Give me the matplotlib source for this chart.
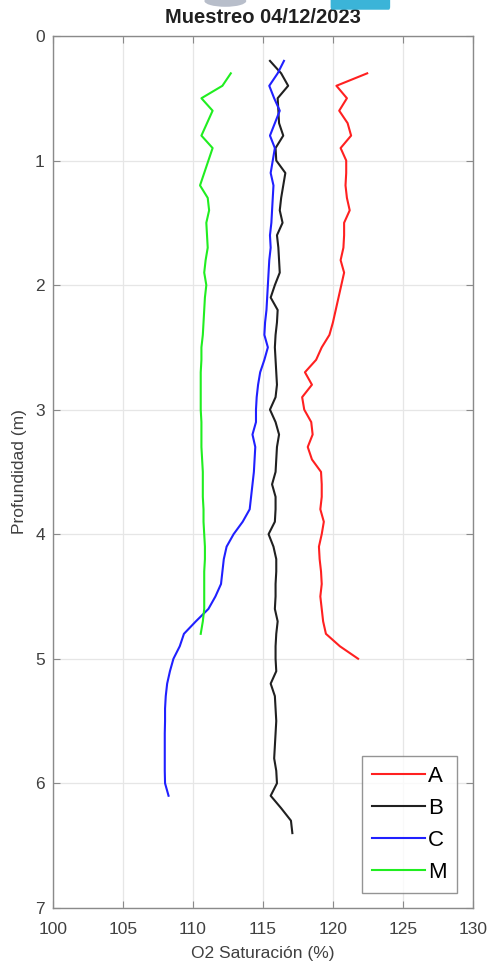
import matplotlib.pyplot as plt
import matplotlib.patches as mpatches

plt.rcParams['font.family'] = ['Liberation Sans', 'DejaVu Sans']

# O2 saturation profiles (%), one value per 0.1 m of depth
depth_a = [round(0.3 + 0.1 * i, 1) for i in range(48)]
sat_a = [122.45, 120.25, 121.0, 120.45, 121.05, 121.3, 120.55, 120.95, 120.95, 120.9,
         121.0, 121.2, 120.8, 120.8, 120.75, 120.55, 120.8, 120.6, 120.4, 120.2,
         120.0, 119.75, 119.2, 118.8, 118.0, 118.5, 117.8, 117.95, 118.45, 118.55,
         118.2, 118.5, 119.15, 119.2, 119.2, 119.1, 119.35, 119.2, 119.0, 119.05,
         119.15, 119.2, 119.1, 119.2, 119.3, 119.5, 120.5, 121.8]

depth_b = [round(0.2 + 0.1 * i, 1) for i in range(63)]
sat_b = [115.5, 116.3, 116.8, 116.05, 116.1, 116.15, 116.45, 115.9, 115.95, 116.6,
         116.45, 116.3, 116.2, 116.4, 116.0, 116.1, 116.15, 116.2, 115.85, 115.55,
         116.05, 116.0, 115.9, 115.85, 115.9, 115.95, 116.0, 115.9, 115.5, 115.9,
         116.15, 116.0, 115.95, 115.9, 115.65, 115.9, 115.9, 115.85, 115.4, 115.75,
         115.95, 115.95, 115.9, 115.9, 115.85, 116.05, 115.95, 115.9, 115.9, 115.95,
         115.55, 115.85, 115.9, 115.95, 115.9, 115.85, 115.8, 115.95, 116.0, 115.55,
         116.3, 117.0, 117.1]

depth_c = [round(0.2 + 0.1 * i, 1) for i in range(60)]
sat_c = [116.5, 116.05, 115.45, 115.8, 116.2, 115.85, 115.5, 115.85, 115.7, 115.55,
         115.75, 115.7, 115.65, 115.6, 115.5, 115.55, 115.45, 115.4, 115.35, 115.3,
         115.25, 115.15, 115.1, 115.35, 115.1, 114.8, 114.65, 114.55, 114.5, 114.5,
         114.25, 114.45, 114.4, 114.35, 114.25, 114.15, 114.05, 113.55, 112.9, 112.4,
         112.2, 112.1, 112.0, 111.6, 111.1, 110.2, 109.35, 109.05, 108.6, 108.35,
         108.15, 108.05, 108.0, 108.0, 107.98, 107.98, 107.98, 107.98, 108.0, 108.25]

depth_m = [round(0.3 + 0.1 * i, 1) for i in range(46)]
sat_m = [112.7, 112.1, 110.6, 111.4, 111.0, 110.6, 111.4, 111.1, 110.8, 110.5,
         111.05, 111.15, 110.95, 111.0, 111.05, 110.9, 110.8, 110.95, 110.85, 110.8,
         110.75, 110.7, 110.6, 110.6, 110.55, 110.55, 110.55, 110.55, 110.6, 110.6,
         110.6, 110.65, 110.7, 110.7, 110.7, 110.75, 110.75, 110.8, 110.85, 110.85,
         110.8, 110.8, 110.8, 110.8, 110.7, 110.55]

fig = plt.figure(figsize=(4.92, 9.72), dpi=100)
ax = fig.add_axes([0.108, 0.066, 0.853, 0.897])

ax.plot(sat_a, depth_a, color='#ff2020', lw=1.5, label='A')
ax.plot(sat_b, depth_b, color='#202020', lw=1.5, label='B')
ax.plot(sat_c, depth_c, color='#2020ff', lw=1.5, label='C')
ax.plot(sat_m, depth_m, color='#20ee20', lw=1.5, label='M')

ax.set_xlim(100, 130)
ax.set_ylim(7, 0)
ax.set_xticks(range(100, 131, 5))
ax.set_yticks(range(0, 8))
ax.grid(True, color='#e6e6e6', lw=0.9)
ax.set_axisbelow(True)
for s in ax.spines.values():
    s.set_color('#8a8a8a')
    s.set_linewidth(1.0)
ax.tick_params(direction='in', length=5, color='#8a8a8a', labelsize=12.5,
               labelcolor='#404040', top=True, right=True)
ax.tick_params(axis='x', pad=10)
ax.tick_params(axis='y', pad=6)

ax.set_xlabel('O2 Saturación (%)', fontsize=12.5, color='#404040', labelpad=7)
ax.set_ylabel('Profundidad (m)', fontsize=12.5, color='#404040', labelpad=6)
ax.set_title('Muestreo 04/12/2023', fontsize=14.5, fontweight='bold', color='#202020', pad=9)

leg = ax.legend(loc='lower right', fontsize=16, frameon=True, fancybox=False,
                edgecolor='#7a7a7a', handlelength=2.4, handletextpad=0.15,
                labelspacing=0.5, borderpad=0.45, borderaxespad=0,
                bbox_to_anchor=(0.962, 0.017))
leg.get_frame().set_linewidth(1.0)

# remnants of a logo cropped at the top edge
fig.patches.append(mpatches.Ellipse((0.458, 0.999), 0.085, 0.012, transform=fig.transFigure,
                                    facecolor='#8a93a8', edgecolor='none', alpha=0.6))
fig.patches.append(mpatches.FancyBboxPatch((0.675, 0.993), 0.115, 0.01, transform=fig.transFigure,
                                           boxstyle='round,pad=0.003', facecolor='#3bb4d8',
                                           edgecolor='none'))

fig.savefig('out.png', dpi=100)
